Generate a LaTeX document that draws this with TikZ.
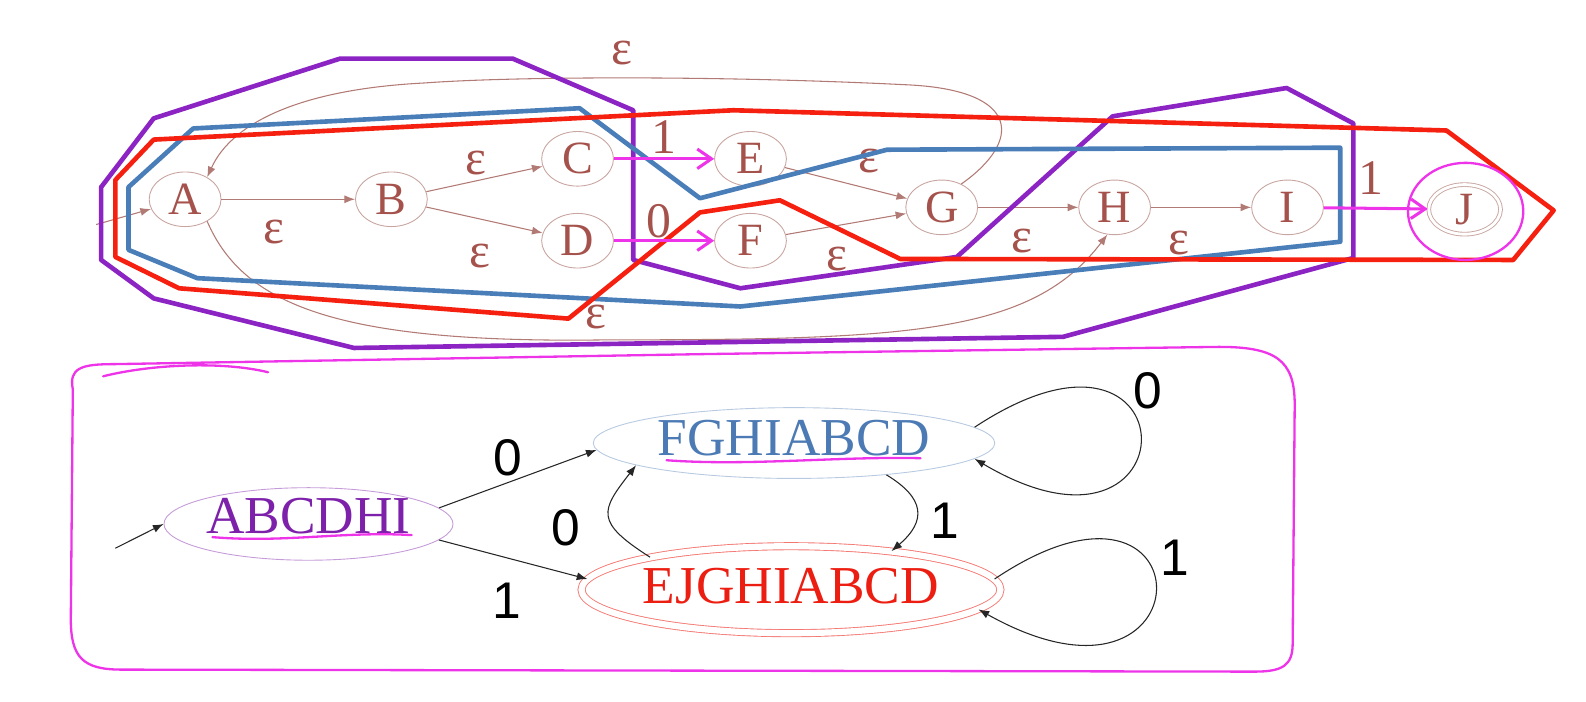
\documentclass[tikz,border=0pt]{standalone}
\usepackage{fontspec}
\setmainfont{Liberation Serif}
\newfontfamily\labelsans{Liberation Sans}
\usetikzlibrary{arrows.meta,automata,positioning,shapes.geometric}

\definecolor{letter}{RGB}{165,82,76}
\definecolor{edgebrown}{RGB}{178,122,116}
\definecolor{ringgrey}{RGB}{200,165,160}
\definecolor{setpurple}{RGB}{140,36,196}
\definecolor{setblue}{RGB}{74,126,184}
\definecolor{setred}{RGB}{245,32,16}
\definecolor{penpink}{RGB}{238,52,232}
\definecolor{dfapurple}{RGB}{125,32,170}
\definecolor{dfablue}{RGB}{76,122,180}
\definecolor{dfared}{RGB}{236,30,18}

\tikzset{
  every state/.style={draw=ringgrey, line width=0.5pt, ellipse, minimum width=1.42cm,
    minimum height=1.08cm, inner sep=0pt, text=letter, font=\fontsize{26}{28}\selectfont},
  state/.append style={ellipse}
}

\begin{document}
\begin{tikzpicture}[x=0.02cm, y=-0.02cm, node distance=3.42cm, >={Latex[length=6pt,width=4.5pt]},
    nfa/.style={->, color=edgebrown, line width=0.6pt},
    pen/.style={-{Straight Barb[length=8pt,width=11pt]}, color=penpink, line width=1.7pt},
    lbl/.style={text=letter, font=\fontsize{28}{30}\selectfont},
    bit/.style={text=black, font=\labelsans\fontsize{29}{31}\selectfont},
    hull/.style={line width=2.6pt, line join=round},
    dfa/.style={->, black!85, line width=0.6pt},
    dstate/.style={draw, ellipse, inner sep=0pt, line width=0.5pt, text depth=6pt,
      font=\fontsize{30}{32}\selectfont},
    ink/.style={penpink, line width=1.3pt, line cap=round}]
    \useasboundingbox (0,0) rectangle (1568,694);

    \node[state] (A) at (183,197) {A};
    \node[state] (B) [right of=A, node distance=4.08cm] {B};
    \node[state] (C) at (571,157) {C};
    \node[state] (D) [below of=C, node distance=1.62cm] {D};
    \node[state] (E) [right of=C] {E};
    \node[state] (F) [right of=D] {F};
    \node[state] (G) at (931,205) {G};
    \node[state] (H) [right of=G] {H};
    \node[state] (I) [right of=H] {I};
    \node[state, accepting, double distance=1.6pt, minimum width=1.42cm, minimum height=0.98cm]
      (J) at (1448,207) {J};
    \coordinate (a0) at (95,222);

    \path[nfa] (a0) edge (A);
    \path[nfa] (A) edge node[lbl, pos=.39, yshift=-18.7pt] {ε} (B);
    \path[nfa] (B) edge node[lbl, pos=.43, yshift=10pt] {ε} (C);
    \path[nfa] (B) edge node[lbl, pos=.46, yshift=-21pt] {ε} (D);
    \path[nfa] (E) edge node[lbl, pos=.69, yshift=16pt] {ε} (G);
    \path[nfa] (F) edge node[lbl, pos=.42, yshift=-19pt] {ε} (G);
    \path[nfa] (G) edge node[lbl, pos=.44, yshift=-19pt] {ε} (H);
    \path[nfa] (H) edge node[lbl, pos=.28, yshift=-20pt] {ε} (I);
    \draw[nfa] (G.50) .. controls (1010,140) and (1010,90) .. (900,84)
      .. controls (700,74) and (500,76) .. (420,82) node[lbl, pos=.5, yshift=14pt] {ε}
      .. controls (300,88) and (230,120) .. (A.45);
    \draw[nfa] (A.-45) .. controls (240,300) and (330,340) .. (600,336)
      node[lbl, xshift=-6pt, yshift=13pt] {ε}
      .. controls (900,336) and (1020,330) .. (H.-105);

    \draw[hull, setpurple] (100,185) -- (152,117) -- (336,58) -- (507,58) -- (626,109) -- (626,257)
      -- (732,285) -- (946,254) -- (1100,115) -- (1272,87) -- (1338,122) -- (1338,255)
      -- (1051,333) -- (350,344) -- (152,295) -- (100,257) -- cycle;
    \draw[hull, setblue] (191,127) -- (573,107) -- (692,196) -- (877,148) -- (1325,146)
      -- (1325,239) -- (732,303) -- (195,275) -- (127,247) -- (127,185) -- cycle;
    \draw[hull, setred] (152,138) -- (725,109) -- (1430,129) -- (1536,208) -- (1496,257)
      -- (890,256) -- (771,198) -- (692,210) -- (562,315) -- (177,285) -- (114,254)
      -- (114,178) -- cycle;

    \path[pen] (C) edge node[lbl, pos=.5, yshift=12pt] {1} (E);
    \path[pen] (D) edge node[lbl, pos=.45, yshift=11pt] {0} (F);
    \path[pen] (I) edge node[lbl, pos=.45, yshift=17pt] {1} (J);
    \draw[ink] (1449,209) ellipse [x radius=1.14cm, y radius=0.96cm];

    \draw[ink] (72,385) .. controls (68,364) and (80,360) .. (112,360) -- (700,350) -- (1200,343)
      .. controls (1262,342) and (1280,356) .. (1280,400) -- (1278,636)
      .. controls (1278,658) and (1268,664) .. (1240,664) -- (120,662)
      .. controls (82,662) and (70,650) .. (70,612) -- cycle;
    \draw[ink] (102,372) .. controls (150,360) and (220,357) .. (265,368);

    \node[dstate, draw=dfapurple!45, text=dfapurple, text depth=9pt, minimum width=5.54cm,
      minimum height=1.34cm] (abcdhi) at (305,518) {ABCDHI};
    \node[dstate, draw=dfablue!40, text=dfablue, minimum width=7.94cm, minimum height=1.4cm]
      (fghi) at (785,438) {FGHIABCD};
    \node[dstate, draw=dfared!60, text=dfared, double, double distance=3.5pt, text depth=4pt,
      minimum width=8.1cm, minimum height=1.72cm] (ejghi) at (782,583) {EJGHIABCD};
    \coordinate (s0) at (114,542);

    \draw[ink] (210,531) .. controls (280,537) and (340,525) .. (407,529);
    \draw[ink] (659,455) .. controls (740,461) and (830,451) .. (910,453);

    \draw[dfa] (s0) -- (abcdhi.west);
    \path[dfa] (abcdhi.7) edge node[bit, pos=.44, yshift=14pt] {0} (fghi.182);
    \path[dfa] (abcdhi.-7) edge node[bit, pos=.46, yshift=-24pt] {1} (ejghi.177);
    \draw[dfa] (ejghi.167) .. controls +(-55,-35) and +(-35,45) .. (fghi.-172)
      node[bit, pos=.5, xshift=-24pt, yshift=-7pt] {0};
    \draw[dfa] (fghi.-19) .. controls +(38,23) and +(35,-30) .. (ejghi.21)
      node[bit, pos=.5, xshift=16pt, yshift=-6pt] {1};
    \draw[dfa] (fghi.5) .. controls (1182,278) and (1182,583) .. (fghi.-5)
      node[bit, pos=.4, xshift=8pt, yshift=12.5pt] {0};
    \draw[dfa] (ejghi.3) .. controls (1198,428) and (1198,732) .. (ejghi.-6)
      node[bit, pos=.4, xshift=14pt, yshift=3.5pt] {1};
\end{tikzpicture}
\end{document}
